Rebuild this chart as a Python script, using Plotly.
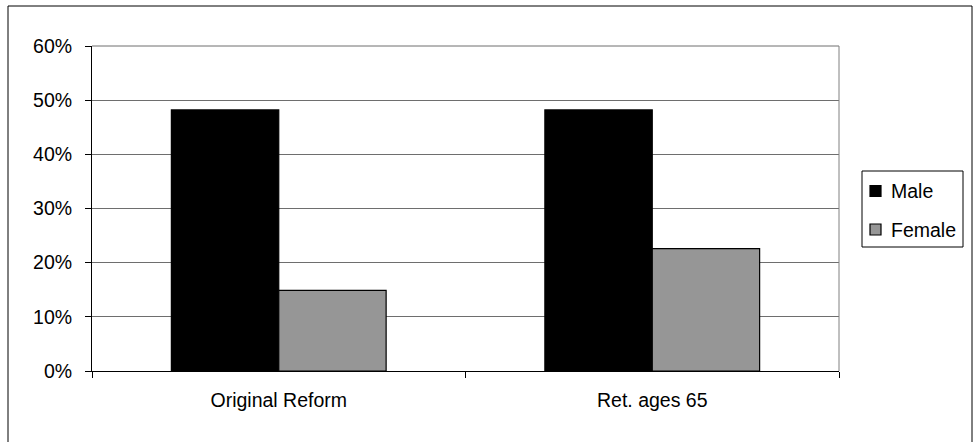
import plotly.graph_objects as go

# Share of retirees by scenario and sex
categories = ["Original Reform", "Ret. ages 65"]
male = [0.482, 0.482]
female = [0.149, 0.226]
y_ticks = [0, 0.1, 0.2, 0.3, 0.4, 0.5, 0.6]
y_tick_labels = ["0%", "10%", "20%", "30%", "40%", "50%", "60%"]

series_names = ["Male", "Female"]
series_colors = ["#000000", "#969696"]

FONT = "Liberation Sans, Arial, sans-serif"
FS = 19.5

# plot area in pixels
L, R, T, B = 92, 839, 46, 371
W, H = R - L, B - T


def px(x):
    return (x - L) / W


def py(y):
    return (B - y) / H


fig = go.Figure()
for name, vals, col in zip(series_names, [male, female], series_colors):
    fig.add_trace(go.Bar(
        x=categories, y=vals, name=name, showlegend=False,
        marker=dict(color=col, line=dict(color="#000000", width=1.2)),
    ))

shapes = [
    # chart border
    dict(type="rect", xref="paper", yref="paper",
         x0=px(8), x1=px(972), y0=py(444), y1=py(6),
         line=dict(color="#000000", width=1), fillcolor="rgba(0,0,0,0)"),
    # top and right edges of plot area
    dict(type="line", xref="paper", yref="paper", x0=0, x1=1, y0=1, y1=1,
         line=dict(color="#6e6e6e", width=1)),
    dict(type="line", xref="paper", yref="paper", x0=1, x1=1, y0=0, y1=1,
         line=dict(color="#808080", width=1)),
    # legend box
    dict(type="rect", xref="paper", yref="paper",
         x0=px(862), x1=px(963), y0=py(247), y1=py(171),
         line=dict(color="#000000", width=1), fillcolor="white"),
]
annotations = []
for i, (name, col) in enumerate(zip(series_names, series_colors)):
    cy = 191 + i * 38.5
    shapes.append(dict(type="rect", xref="paper", yref="paper",
                       x0=px(870), x1=px(881), y0=py(cy + 5.5), y1=py(cy - 5.5),
                       line=dict(color="#000000", width=1.2), fillcolor=col))
    annotations.append(dict(xref="paper", yref="paper", x=px(889), y=py(cy),
                            xanchor="left", yanchor="middle", showarrow=False,
                            text=name, font=dict(family=FONT, size=FS, color="#000000")))

fig.update_layout(
    width=973, height=442,
    margin=dict(l=L, r=973 - R, t=T, b=442 - B),
    paper_bgcolor="white", plot_bgcolor="white",
    font=dict(family=FONT, size=FS, color="#000000"),
    barmode="group", bargap=0.425, bargroupgap=0,
    showlegend=False,
    shapes=shapes, annotations=annotations,
)

fig.update_xaxes(
    type="category", showgrid=False,
    showline=True, linecolor="#000000", linewidth=1,
    ticks="outside", tickson="boundaries", ticklen=6, tickcolor="#000000",
    tickfont=dict(family=FONT, size=FS), ticklabelstandoff=12,
)
fig.update_yaxes(
    range=[0, 0.6], tickvals=y_ticks, ticktext=y_tick_labels,
    showgrid=True, gridcolor="#6e6e6e", gridwidth=1,
    showline=True, linecolor="#000000", linewidth=1,
    ticks="outside", ticklen=6, tickcolor="#000000",
    tickfont=dict(family=FONT, size=FS), zeroline=False,
    ticklabelstandoff=9,
)

fig.write_html("out.html")
